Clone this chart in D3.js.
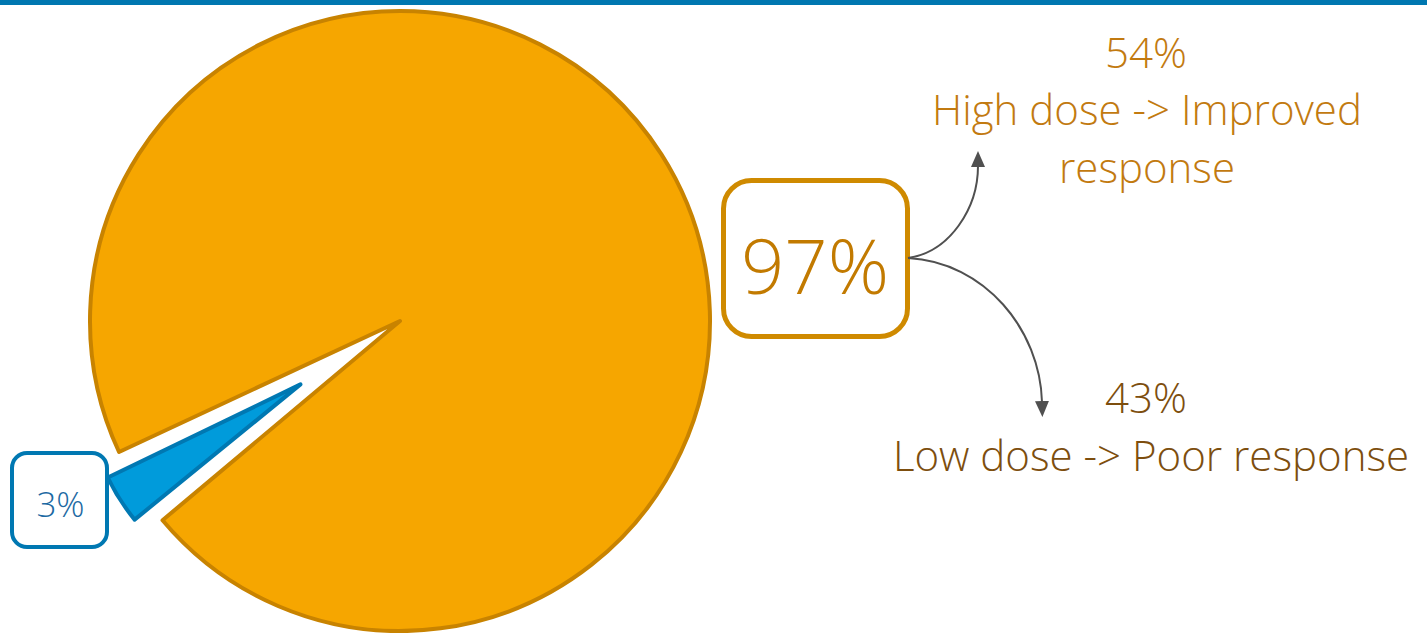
<!DOCTYPE html>
<html>
<head>
<meta charset="utf-8">
<script src="https://cdn.jsdelivr.net/npm/d3@7"></script>
<style>
  html, body { margin: 0; padding: 0; background: #fff; }
  svg { display: block; font-family: "Open Sans", "Noto Sans", sans-serif; font-weight: 300; }
</style>
</head>
<body>
<svg id="chart" width="1427" height="633"></svg>
<script>
// ---- data ----
const categories = ["Responders", "Non-responders"];
const values = [97, 3];
const sliceLabels = ["97%", "3%"];
const subValues = [54, 43];
const subLabels = [["High dose -> Improved", "response"], ["Low dose -> Poor response"]];

// ---- styles ----
const fills = ["#F6A600", "#009BDB"];
const strokes = ["#C88300", "#0078B2"];

const W = 1427, H = 633;
const svg = d3.select("#chart");

// top rule
svg.append("rect").attr("x", 0).attr("y", 0).attr("width", W).attr("height", 5).attr("fill", "#0077B0");

const cx = 400, cy = 321;
const R = 310, rSmall = 214, explode = 118;
const deg = Math.PI / 180;

const pie = d3.pie().sort(null).value(d => d)
  .startAngle(-117.1 * deg).endAngle(-117.1 * deg + 2 * Math.PI);
const arcs = pie(values);

const g = svg.append("g").attr("transform", `translate(${cx},${cy})`);

// big slice with a padded gap
const bigArc = d3.arc().innerRadius(0).outerRadius(R).padRadius(R).padAngle(4.2 * deg);
g.append("path")
  .attr("d", bigArc(arcs[0]))
  .attr("fill", fills[0]).attr("stroke", strokes[0]).attr("stroke-width", 4)
  .attr("stroke-linejoin", "round");

// small exploded slice (slightly widened for visibility)
const widen = 1.3 * deg;
const sd = Object.assign({}, arcs[1], { startAngle: arcs[1].startAngle - widen, endAngle: arcs[1].endAngle + widen });
const smallArc = d3.arc().innerRadius(0).outerRadius(rSmall);
const mid = (arcs[1].startAngle + arcs[1].endAngle) / 2;
const ox = Math.sin(mid) * explode, oy = -Math.cos(mid) * explode;
g.append("path")
  .attr("transform", `translate(${ox},${oy})`)
  .attr("d", smallArc(sd))
  .attr("fill", fills[1]).attr("stroke", strokes[1]).attr("stroke-width", 4)
  .attr("stroke-linejoin", "round");

// 3% label box
svg.append("rect").attr("x", 12).attr("y", 453).attr("width", 95).attr("height", 94).attr("rx", 15)
  .attr("fill", "#fff").attr("stroke", strokes[1]).attr("stroke-width", 4);
svg.append("text").attr("x", 60.5).attr("y", 517).attr("text-anchor", "middle")
  .attr("font-size", 35).attr("fill", "#1D6AA3").text(sliceLabels[1]);

// 97% label box
svg.append("rect").attr("x", 723.5).attr("y", 180.5).attr("width", 184).attr("height", 156).attr("rx", 28)
  .attr("fill", "#fff").attr("stroke", "#CF8A00").attr("stroke-width", 5);
svg.append("text").attr("x", 815).attr("y", 294).attr("text-anchor", "middle")
  .attr("font-size", 76).attr("fill", "#C27A00").text(sliceLabels[0]);

// arrows
const defs = svg.append("defs");
defs.append("marker").attr("id", "ah").attr("viewBox", "0 0 16 14").attr("refX", 1).attr("refY", 7)
  .attr("markerWidth", 16).attr("markerHeight", 14).attr("orient", "auto")
  .attr("markerUnits", "userSpaceOnUse")
  .append("path").attr("d", "M0,0 L16,7 L0,14 z").attr("fill", "#505050");

svg.append("path").attr("d", "M908,258 C950,252 978,208 978,166")
  .attr("fill", "none").attr("stroke", "#505050").attr("stroke-width", 2).attr("marker-end", "url(#ah)");
svg.append("path").attr("d", "M908,258 C985,262 1040,330 1042,402")
  .attr("fill", "none").attr("stroke", "#505050").attr("stroke-width", 2).attr("marker-end", "url(#ah)");

// right labels
const topG = svg.append("g").attr("fill", "#C27A10").attr("font-size", 42).attr("text-anchor", "middle");
topG.append("text").attr("x", 1146).attr("y", 68).text(subValues[0] + "%");
subLabels[0].forEach((t, i) => topG.append("text").attr("x", 1147).attr("y", 125 + i * 58).text(t));

const botG = svg.append("g").attr("fill", "#7D4E0E").attr("font-size", 42).attr("text-anchor", "middle");
botG.append("text").attr("x", 1146).attr("y", 413).text(subValues[1] + "%");
subLabels[1].forEach((t, i) => botG.append("text").attr("x", 1151).attr("y", 471 + i * 58).text(t));
</script>
</body>
</html>
